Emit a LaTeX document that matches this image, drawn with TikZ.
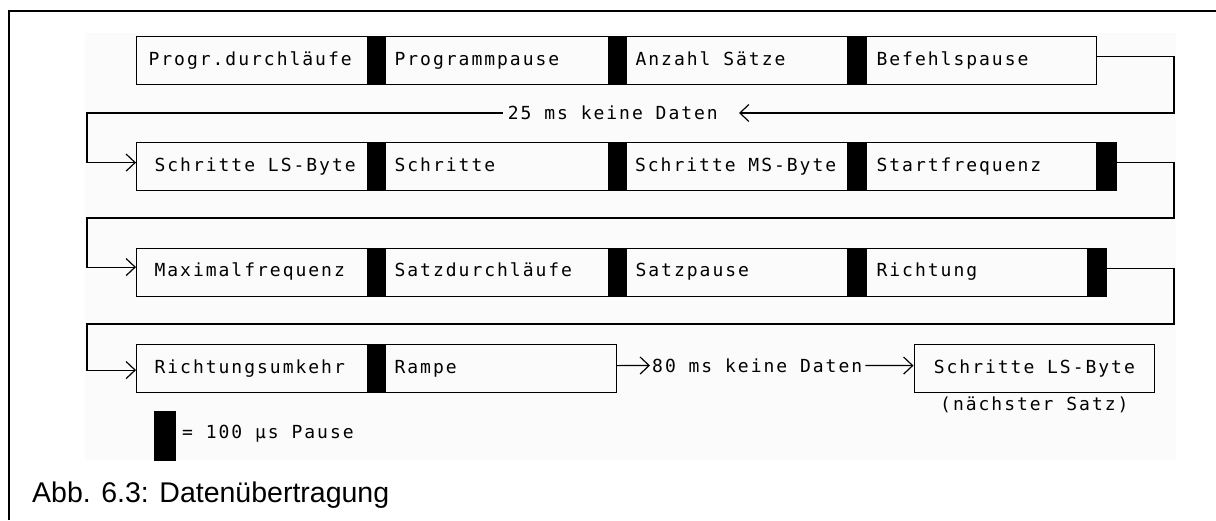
\documentclass[tikz,border=0pt]{standalone}
\usepackage{fontspec}
\usetikzlibrary{arrows.meta}
\newfontfamily\plotfont[LetterSpace=11]{DejaVu Sans Mono}
\newfontfamily\capfont{Liberation Sans}
\newcommand\boxtxt[2]{\makebox[#1][l]{#2}}
\tikzset{
  plot/.style={font=\plotfont\fontsize{18}{20}\selectfont},
  box/.style={draw, line width=1.2pt, anchor=north west, minimum height=48pt, inner ysep=0pt, plot, text height=13pt, text depth=4pt},
  pz/.style={draw=black, fill=black, line width=1.2pt, anchor=north west, minimum height=48pt, inner sep=0pt},
  conn/.style={draw, line width=1.2pt},
  >={Straight Barb[length=9pt,width=17pt]}
}
\begin{document}
\begin{tikzpicture}[x=1pt,y=-1pt]
\useasboundingbox (0,0) rectangle (1216,520);
\fill[white] (0,0) rectangle (1216,520);
\fill[black!1.5] (85,33) rectangle (1176,460);
\draw[line width=1.3pt] (9,520) -- (9,11) -- (1216,11);
% row 1
\node[box, inner xsep=12pt] (r1a) at (136,36) {\boxtxt{207pt}{Progr.durchläufe}};
\node[pz, minimum width=18pt] (p1a) at (367,36) {};
\node[box, inner xsep=9pt] (r1b) at (385,36) {\boxtxt{205pt}{Programmpause}};
\node[pz, minimum width=18pt] (p1b) at (608,36) {};
\node[box, inner xsep=9pt] (r1c) at (626,36) {\boxtxt{203pt}{Anzahl Sätze}};
\node[pz, minimum width=19pt] (p1c) at (847,36) {};
\node[box, inner xsep=10pt] (r1d) at (866,36) {\boxtxt{210pt}{Befehlspause}};
% row 2
\node[box, inner xsep=18pt] (r2a) at (136,142) {\boxtxt{195pt}{Schritte LS-Byte}};
\node[pz, minimum width=18pt] (p2a) at (367,142) {};
\node[box, inner xsep=9pt] (r2b) at (385,142) {\boxtxt{205pt}{Schritte}};
\node[pz, minimum width=18pt] (p2b) at (608,142) {};
\node[box, inner xsep=8.5pt] (r2c) at (626,142) {\boxtxt{204pt}{Schritte MS-Byte}};
\node[pz, minimum width=19pt] (p2c) at (847,142) {};
\node[box, inner xsep=10pt] (r2d) at (866,142) {\boxtxt{210pt}{Startfrequenz}};
\node[pz, minimum width=20pt] (p2d) at (1096,142) {};
% row 3
\node[box, inner xsep=18pt] (r3a) at (136,247.5) {\boxtxt{195pt}{Maximalfrequenz}};
\node[pz, minimum width=18pt] (p3a) at (367,247.5) {};
\node[box, inner xsep=9pt] (r3b) at (385,247.5) {\boxtxt{205pt}{Satzdurchläufe}};
\node[pz, minimum width=18pt] (p3b) at (608,247.5) {};
\node[box, inner xsep=9pt] (r3c) at (626,247.5) {\boxtxt{203pt}{Satzpause}};
\node[pz, minimum width=19pt] (p3c) at (847,247.5) {};
\node[box, inner xsep=10pt] (r3d) at (866,247.5) {\boxtxt{201pt}{Richtung}};
\node[pz, minimum width=19pt] (p3d) at (1087,247.5) {};
% row 4
\node[box, inner xsep=18pt] (r4a) at (136,344) {\boxtxt{195pt}{Richtungsumkehr}};
\node[pz, minimum width=18pt] (p4a) at (367,344) {};
\node[box, inner xsep=9pt] (r4b) at (385,344) {\boxtxt{213pt}{Rampe}};
\node[box, inner xsep=0pt, minimum width=240.5pt] (nx) at (913.5,344) {Schritte LS-Byte};
\node[plot, inner sep=0pt] (ns) at ([yshift=-12pt]nx.south) {(nächster Satz)};
% labels
\node[plot, inner sep=0pt, anchor=east] (t25) at (718,113) {25 ms keine Daten};
\node[plot, inner sep=0pt, anchor=west] (t80) at (652,365.5) {80 ms keine Daten};
% connectors
\draw[conn,->] ([yshift=4pt]r1d.east) -| (1174,113) -- ([xshift=21pt]t25.east);
\draw[conn,->] ([xshift=-5pt]t25.west) -- (87,113) |- ([yshift=4pt]r2a.west);
\draw[conn,->] ([yshift=4pt]p2d.east) -| (1174,218) -- (87,218) |- ([yshift=5pt]r3a.west);
\draw[conn,->] ([yshift=4pt]p3d.east) -| (1174,324) -- (87,324) |- ([yshift=-1.5pt]r4a.west);
\draw[conn,->] ([yshift=3pt]r4b.east) -- ([xshift=-2pt]t80.west);
\draw[conn,->] ([xshift=3pt]t80.east) -- ([yshift=3pt]nx.west);
% legend
\node[pz, minimum width=21pt, minimum height=49pt] (lg) at (154,411) {};
\node[plot, inner sep=0pt, anchor=west] (lgt) at (182,434) {= 100 μs Pause};
% caption
\node[font=\capfont\fontsize{28.5}{32}\selectfont, inner sep=0pt, anchor=base west] (cap) at (32,502) {Abb. 6.3: Datenübertragung};
\end{tikzpicture}
\end{document}
